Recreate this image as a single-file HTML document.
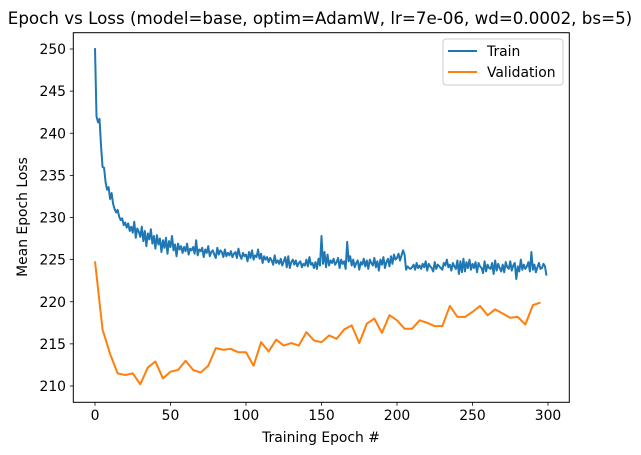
<!DOCTYPE html>
<html><head><meta charset="utf-8">
<style>
html,body{margin:0;padding:0;background:#fff;}
svg{display:block;font-family:"DejaVu Sans","Liberation Sans",sans-serif;}
</style></head>
<body>
<svg id="chart" width="641" height="455" viewBox="0 0 641 455" xmlns="http://www.w3.org/2000/svg">
<rect width="641" height="455" fill="#fff"/>
<text x="320" y="24" font-size="16.7" text-anchor="middle" fill="#000">Epoch vs Loss (model=base, optim=AdamW, lr=7e-06, wd=0.0002, bs=5)</text>
<g id="plot"></g>
<rect x="73.3" y="32.7" width="496" height="369.6" fill="none" stroke="#000" stroke-width="1"/>
<text x="321" y="442" font-size="13.9" text-anchor="middle">Training Epoch #</text>
<text transform="translate(27,217) rotate(-90)" font-size="13.9" text-anchor="middle">Mean Epoch Loss</text>
<g>
<rect x="443" y="39" width="120" height="46" rx="3" fill="#fff" stroke="#ccc" stroke-width="1"/>
<line x1="448" y1="51" x2="477" y2="51" stroke="#1f77b4" stroke-width="2"/>
<text x="487" y="56" font-size="13.9">Train</text>
<line x1="448" y1="72" x2="477" y2="72" stroke="#ff7f0e" stroke-width="2"/>
<text x="487" y="77" font-size="13.9">Validation</text>
</g>
</svg>
<script>
const xTicks=[0,50,100,150,200,250,300];
const yTicks=[210,215,220,225,230,235,240,245,250];
const trainLoss=[250.1,242.0,241.3,241.7,238.5,236.0,235.9,234.2,233.3,233.6,
232.2,232.9,231.6,231.0,230.6,230.9,230.1,229.7,229.9,229.1,
229.4,228.8,229.3,228.4,228.9,228.2,229.5,227.6,228.7,228.3,
227.7,228.9,227.2,228.4,226.6,228.1,227.4,228.6,226.9,227.8,
226.3,227.9,226.8,227.5,225.9,227.3,226.4,227.6,225.7,227.2,
226.5,227.8,226.1,226.8,225.4,226.9,226.2,226.6,225.8,226.5,
226.0,226.9,225.6,226.3,226.1,226.5,225.7,227.3,225.5,226.2,
226.0,226.4,225.3,226.2,225.8,226.6,225.4,225.9,226.1,225.6,
225.2,226.4,225.6,226.1,225.9,225.3,226.2,225.4,225.8,225.5,
226.0,225.3,225.7,225.9,225.2,226.3,225.5,225.1,225.8,225.4,
225.6,224.8,225.9,225.2,226.1,225.0,225.5,225.3,226.2,225.1,
225.7,224.6,225.4,225.0,225.3,224.7,225.2,224.9,224.4,225.5,
224.6,224.9,224.5,225.1,224.3,224.8,225.3,224.1,225.4,224.0,
224.7,225.0,224.4,224.9,224.2,224.6,224.8,224.1,224.5,224.3,
225.0,224.2,225.3,224.4,224.6,224.0,224.7,223.9,225.1,224.3,
227.8,224.5,225.9,224.1,225.6,224.3,224.9,224.6,225.1,224.4,
224.7,225.2,224.0,225.0,224.5,224.8,223.9,227.1,224.8,225.4,
224.3,225.0,224.1,224.6,224.9,223.8,224.7,224.4,225.1,224.2,
224.9,223.9,225.0,224.6,224.3,225.2,224.1,224.8,223.7,225.0,
224.4,225.3,224.0,224.7,225.1,224.2,225.4,224.5,225.6,225.0,
225.2,225.7,224.9,225.5,226.1,225.6,223.8,224.2,224.0,223.9,
224.1,224.4,223.8,224.6,224.0,224.3,223.9,224.5,224.1,224.8,
223.7,224.5,224.2,224.0,223.6,224.7,223.9,224.4,224.2,224.0,
223.8,224.6,224.3,225.0,224.1,224.4,223.7,224.6,224.2,223.9,
224.9,223.3,224.8,223.5,225.1,223.6,224.7,224.0,225.0,223.8,
224.5,224.0,224.7,223.5,224.6,224.2,224.0,223.4,224.8,223.6,
224.4,224.0,223.9,224.6,223.3,224.9,223.7,224.5,224.0,223.6,
224.4,223.5,224.7,224.1,223.9,224.8,223.7,224.3,224.6,222.7,
224.2,223.6,225.0,223.8,224.4,223.9,224.2,224.7,223.6,225.9,
223.8,224.4,223.5,224.1,224.6,223.9,224.0,224.5,224.2,223.1];
const valEpochs=[0,5,10,15,20,25,30,35,40,45,50,55,60,65,70,75,80,85,90,95,100,105,110,115,120,125,130,135,140,145,150,155,160,165,170,175,180,185,190,195,200,205,210,215,220,225,230,235,240,245,250,255,260,265,270,275,280,285,290,295];
const valLoss=[224.8,216.7,213.8,211.5,211.3,211.5,210.2,212.2,212.9,210.9,211.7,211.9,213.0,211.9,211.6,212.4,214.5,214.3,214.4,214.0,214.0,212.4,215.2,214.1,215.5,214.8,215.1,214.8,216.4,215.4,215.2,216.0,215.6,216.7,217.2,215.1,217.4,218.0,216.3,218.4,217.8,216.8,216.8,217.8,217.5,217.1,217.1,219.5,218.2,218.2,218.8,219.5,218.4,219.1,218.6,218.1,218.2,217.3,219.6,219.9];

const NS='http://www.w3.org/2000/svg';
const g=document.getElementById('plot');
function X(v){return 95+v*1.51;}
function Y(v){return 386-(v-210)*8.425;}
function mk(tag,attrs){const e=document.createElementNS(NS,tag);for(const k in attrs)e.setAttribute(k,attrs[k]);g.appendChild(e);return e;}

xTicks.forEach(t=>{
  const l=mk('line',{x1:X(t),x2:X(t),y1:402.3,y2:405.8,stroke:'#000','stroke-width':0.8});
  
  
  const tx=mk('text',{x:X(t),y:420,'font-size':13.9,'text-anchor':'middle'});
  
  
  tx.textContent=t;
});
yTicks.forEach(t=>{
  const l=mk('line',{x1:69.8,x2:73.3,y1:Y(t),y2:Y(t),stroke:'#000','stroke-width':0.8});
  
  
  const tx=mk('text',{x:66,y:Y(t)+5,'font-size':13.9,'text-anchor':'end'});
  
  
  tx.textContent=t;
});
const tp=mk('polyline',{points:trainLoss.map((v,i)=>X(i).toFixed(2)+','+Y(v).toFixed(2)).join(' '),fill:'none',stroke:'#1f77b4','stroke-width':2,'stroke-linejoin':'round'});


const vp=mk('polyline',{points:valLoss.map((v,i)=>X(valEpochs[i]).toFixed(2)+','+Y(v).toFixed(2)).join(' '),fill:'none',stroke:'#ff7f0e','stroke-width':2,'stroke-linejoin':'round'});


</script>
</body></html>
